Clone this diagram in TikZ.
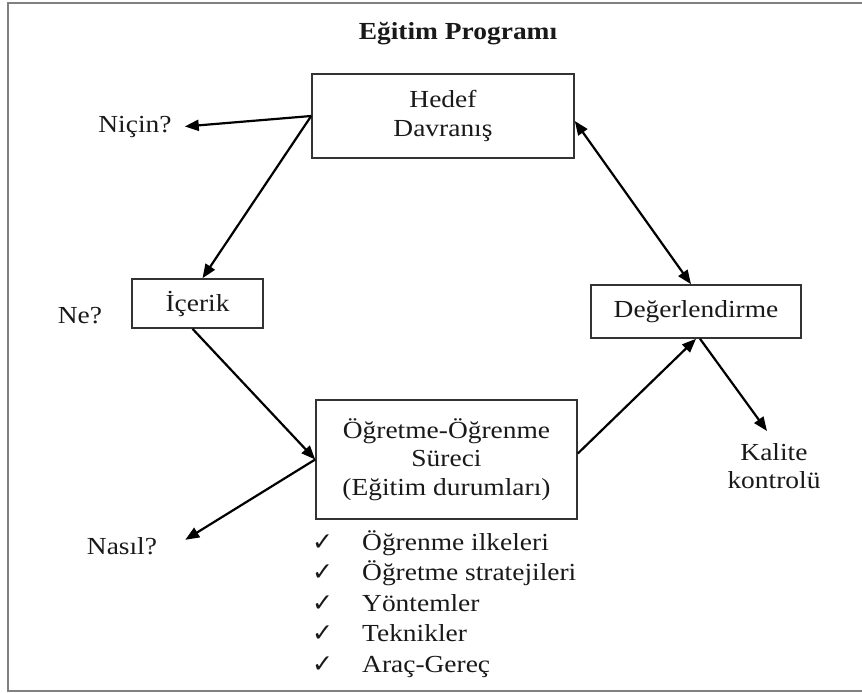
\documentclass[tikz,border=0pt]{standalone}
\usepackage{fontspec}
\setmainfont{Liberation Serif}[FakeStretch=1.12]
\newfontfamily\checkfont{DejaVu Sans}
\usetikzlibrary{arrows.meta}

\tikzset{
    box/.style={draw=black!80, line width=1.6pt, inner sep=0pt, align=center},
    lbl/.style={inner sep=0pt, align=center},
    link/.style={line width=2.2pt, ->},
}

\begin{document}
\begin{tikzpicture}[x=1pt, y=-1pt, >={Triangle[length=14pt,width=11pt]},
    every node/.style={font=\fontsize{24.5}{28.5}\selectfont, text=black!90} ]
    \useasboundingbox (0,0) rectangle (862,693);

    % frame
    \draw[black!50, line width=2pt] (8,3) rectangle (870,691);

    % title
    \node[lbl, anchor=base, font=\fontsize{24.5}{28.5}\selectfont\bfseries] (title) at (458,40) {Eğitim Programı};

    % boxes
    \node[box, minimum width=262pt, minimum height=84pt] (hedef) at (443,116) {Hedef\\Davranış};
    \node[box, minimum width=131pt, minimum height=49pt] (icerik) at (197.5,303.5) {İçerik};
    \node[box, minimum width=210pt, minimum height=53pt] (deger) at (696,311.5) {Değerlendirme};
    \node[box, minimum width=261pt, minimum height=119pt] (ogretme) at (446.5,459.5)
        {Öğretme-Öğrenme\\Süreci\\(Eğitim durumları)};

    % questions
    \node[lbl, anchor=base] (nicin) at (135,132) {Niçin?};
    \node[lbl, anchor=base] (ne) at (80,323) {Ne?};
    \node[lbl, anchor=base] (nasil) at (122,554) {Nasıl?};
    \node[lbl, anchor=north] (kalite) at (774,443) {Kalite\\kontrolü};

    % check list
    \foreach \txt [count=\i] in {Öğrenme ilkeleri, Öğretme stratejileri, Yöntemler, Teknikler, Araç-Gereç}
    {
        \node[lbl, anchor=base west, font=\checkfont\bfseries\fontsize{25}{25}\selectfont] (check\i) at (312,{519.5+30.5*\i}) {✓};
        \node[lbl, anchor=base west] (item\i) at (362,{519.5+30.5*\i}) {\txt};
    }

    % arrows
    \draw[link] (hedef.west) -- ([xshift=13pt]nicin.east);
    \draw[link] (hedef.west) -- ([xshift=5pt]icerik.north);
    \draw[link, <->] ([yshift=-5pt]hedef.east) -- ([xshift=-5pt]deger.north);
    \draw[link] ([xshift=-5pt]icerik.south) -- (ogretme.west);
    \draw[link] (ogretme.west) -- ([shift={(28pt,-3pt)}]nasil.north east);
    \draw[link] ([yshift=6pt]ogretme.east) -- (deger.south);
    \draw[link] ([xshift=4pt]deger.south) -- ([shift={(-7pt,12pt)}]kalite.north);

\end{tikzpicture}
\end{document}
